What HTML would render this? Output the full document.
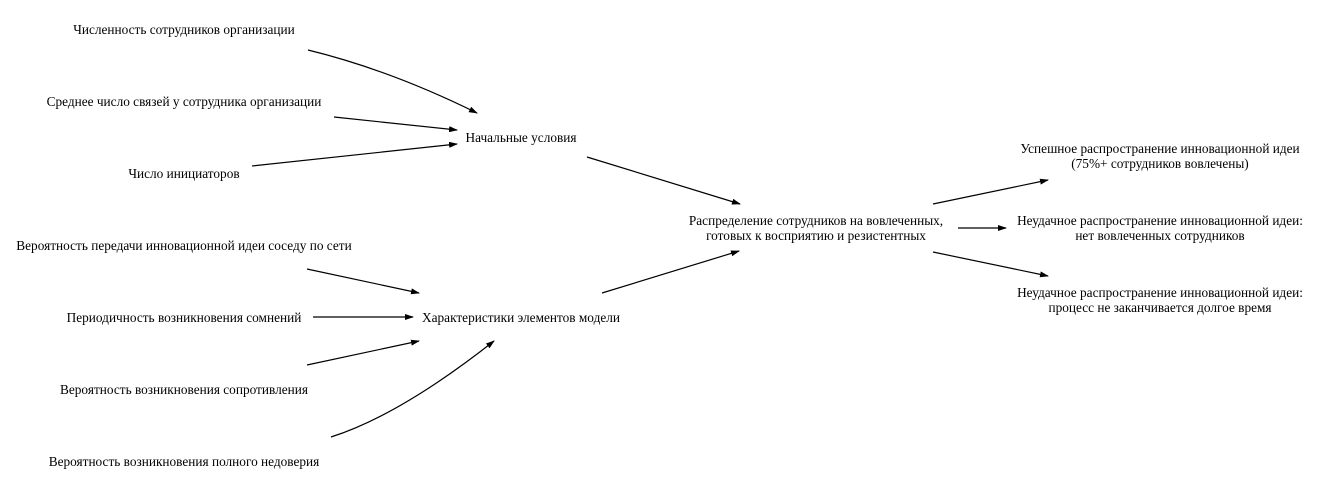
<!DOCTYPE html>
<html><head><meta charset="utf-8"><style>
html,body{margin:0;padding:0;background:#fff;}
svg{display:block;}
text{font-family:"Liberation Serif","DejaVu Serif",serif;font-size:13.3px;fill:#000;}
</style></head><body>
<svg width="1323" height="491" viewBox="0 0 1323 491" xmlns="http://www.w3.org/2000/svg">
<defs><marker id="a" markerWidth="9" markerHeight="6" refX="8" refY="3" orient="auto" markerUnits="userSpaceOnUse"><path d="M0,0 L9,3 L0,6 z" fill="#000"/></marker></defs>
<g text-anchor="middle">
<text x="184" y="34">Численность сотрудников  организации</text>
<text x="184" y="106">Среднее число связей у сотрудника организации</text>
<text x="184" y="178">Число инициаторов</text>
<text x="184" y="250">Вероятность передачи инновационной идеи соседу по сети</text>
<text x="184" y="322">Периодичность возникновения сомнений</text>
<text x="184" y="394">Вероятность возникновения сопротивления</text>
<text x="184" y="466">Вероятность возникновения полного недоверия</text>
<text x="521" y="142">Начальные условия</text>
<text x="521" y="322">Характеристики элементов модели</text>
<text x="816" y="225">Распределение сотрудников на вовлеченных,</text>
<text x="816" y="240">готовых к восприятию и резистентных</text>
<text x="1160" y="153">Успешное распространение инновационной идеи</text>
<text x="1160" y="168">(75%+ сотрудников вовлечены)</text>
<text x="1160" y="225">Неудачное распространение инновационной идеи:</text>
<text x="1160" y="240">нет вовлеченных сотрудников</text>
<text x="1160" y="297">Неудачное распространение инновационной идеи:</text>
<text x="1160" y="312">процесс не заканчивается долгое время</text>
</g>
<g stroke="#000" stroke-width="1.2" fill="none" marker-end="url(#a)">
<path d="M308,50 Q390,70 477,113"/>
<path d="M334,117 L457,130"/>
<path d="M252,166 L457,144"/>
<path d="M307,269 L419,293"/>
<path d="M313,317 L413,317"/>
<path d="M307,365 L419,341"/>
<path d="M331,437 Q400,415 494,341"/>
<path d="M587,157 L740,204"/>
<path d="M602,293 L739,251"/>
<path d="M933,204 L1048,180"/>
<path d="M958,228 L1006,228"/>
<path d="M933,252 L1048,276"/>
</g>
</svg>
</body></html>
